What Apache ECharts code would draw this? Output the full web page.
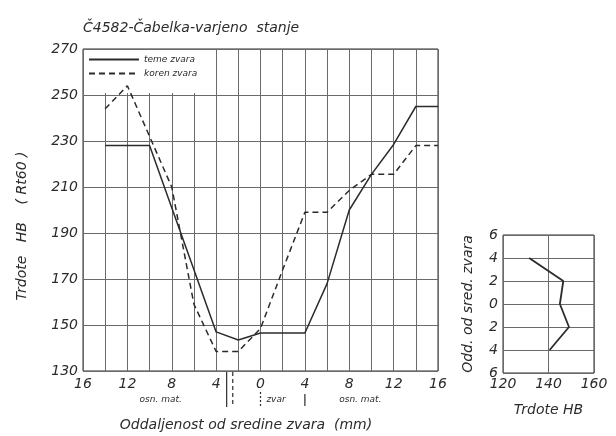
<!DOCTYPE html>
<html>
<head>
<meta charset="utf-8">
<script src="https://cdn.jsdelivr.net/npm/echarts@6/dist/echarts.min.js"></script>
<style>
  html, body { margin: 0; padding: 0; background: #fff; }
  #chart { width: 616px; height: 436px; }
</style>
</head>
<body>
<div id="chart"></div>
<script>
// oddaljenost od sredine zvara (mm)
const distance = [-14, -12, -10, -8, -6, -4, -2, 0, 2, 4, 6, 8, 10, 12, 14, 16];
// trdote HB, teme zvara (polna crta)
const temeZvara = [228, 228, 228, 201, 174, 147, 143.5, 146.5, 146.5, 146.5, 168, 200, 215.5, 228.5, 245, 245];
// trdote HB, koren zvara (crtkana crta)
const korenZvara = [244, 254, 232, 210, 159, 138.5, 138.5, 148.5, 174, 199, 199, 208.5, 215.5, 215.5, 228, 228];

const xLabelValues = [-16, -12, -8, -4, 0, 4, 8, 12, 16];
const yTicks = [130, 150, 170, 190, 210, 230, 250, 270];

// mali diagram desno
const sredPos = [4, 2, 0, -2, -4];
const sredHB = [131.5, 146.5, 145, 149, 140.5];
const smallYTicks = [-6, -4, -2, 0, 2, 4, 6];
const smallXTicks = [120, 140, 160];

// meje obmocij pod osjo (mm) in napisi
const zoneBounds = [-3.05, -2.5, 0, 4];
const zoneLabels = ['osn. mat.', 'zvar', 'osn. mat.'];
const zoneLabelPos = [-9, 1.4, 9];

const font = "'DejaVu Sans', 'Liberation Sans', sans-serif";
const ink = '#2b2b2b';
const gridInk = '#6a6a6a';

const chart = echarts.init(document.getElementById('chart'));

const labelStyle = { fontSize: 14, fontStyle: 'italic', color: ink, fontFamily: font };

chart.setOption({
  animation: false,
  backgroundColor: '#fff',
  textStyle: { fontFamily: font, fontStyle: 'italic', color: ink },
  title: {
    text: 'Č4582-Čabelka-varjeno  stanje',
    left: 78, top: 16,
    textStyle: { fontSize: 14, fontWeight: 'normal', fontStyle: 'italic', color: ink, fontFamily: font }
  },
  legend: {
    left: 84, top: 50, orient: 'vertical', z: 1,
    backgroundColor: '#fff', padding: [5, 14, 15, 4],
    itemWidth: 50, itemHeight: 8, itemGap: 5,
    itemStyle: { opacity: 0 },
    textStyle: { fontSize: 9, fontStyle: 'italic', color: ink, fontFamily: font },
    data: ['teme zvara', 'koren zvara']
  },
  grid: [
    { left: 83, top: 49, width: 355, height: 322, show: true, borderColor: ink, borderWidth: 1 },
    { left: 503, top: 235, width: 91, height: 138, show: true, borderColor: ink, borderWidth: 1 }
  ],
  xAxis: [
    {
      gridIndex: 0, type: 'value', min: -16, max: 16, interval: 2,
      axisLine: { show: false }, axisTick: { show: false },
      splitLine: { lineStyle: { color: gridInk, width: 1 } },
      axisLabel: Object.assign({ customValues: xLabelValues, margin: 6, formatter: v => String(Math.abs(v)) }, labelStyle)
    },
    {
      gridIndex: 1, type: 'value', min: 120, max: 160, interval: 20,
      axisLine: { show: false }, axisTick: { show: false },
      splitLine: { lineStyle: { color: gridInk, width: 1 } },
      axisLabel: Object.assign({ customValues: smallXTicks, margin: 4 }, labelStyle),
      name: 'Trdote HB', nameLocation: 'middle', nameGap: 30,
      nameTextStyle: labelStyle
    }
  ],
  yAxis: [
    {
      gridIndex: 0, type: 'value', min: 130, max: 270,
      axisLine: { show: false },
      axisTick: { show: false, customValues: yTicks },
      splitLine: { lineStyle: { color: gridInk, width: 1 } },
      axisLabel: Object.assign({ customValues: yTicks, margin: 5 }, labelStyle)
    },
    {
      gridIndex: 1, type: 'value', min: -6, max: 6, interval: 2,
      axisLine: { show: false }, axisTick: { show: false },
      splitLine: { lineStyle: { color: gridInk, width: 1 } },
      axisLabel: Object.assign({ customValues: smallYTicks, margin: 5, formatter: v => String(Math.abs(v)) }, labelStyle),
      name: 'Odd. od sred. zvara', nameLocation: 'middle', nameGap: 28,
      nameTextStyle: labelStyle
    }
  ],
  series: [
    {
      name: 'teme zvara', type: 'line', xAxisIndex: 0, yAxisIndex: 0, z: 3,
      data: distance.map((d, i) => [d, temeZvara[i]]),
      symbol: 'none',
      lineStyle: { color: ink, width: 1.5 }, itemStyle: { color: ink }
    },
    {
      name: 'koren zvara', type: 'line', xAxisIndex: 0, yAxisIndex: 0, z: 3,
      data: distance.map((d, i) => [d, korenZvara[i]]),
      symbol: 'none',
      lineStyle: { color: ink, width: 1.5, type: [6, 4] }, itemStyle: { color: ink }
    },
    {
      name: 'sredina', type: 'line', xAxisIndex: 1, yAxisIndex: 1, z: 3,
      data: sredHB.map((h, i) => [h, sredPos[i]]),
      symbol: 'none',
      lineStyle: { color: ink, width: 1.8 }, itemStyle: { color: ink }
    }
  ]
});

// crte in napisi pod osjo x, iz koordinat osi
const axisY = chart.convertToPixel({ gridIndex: 0 }, [0, 130])[1];
const px = v => chart.convertToPixel({ gridIndex: 0 }, [v, 130])[0];
const graphics = [];
const boundStyles = [
  { dash: null, from: 1, to: 36 },
  { dash: [4, 3], from: 1, to: 36 },
  { dash: [2, 2], from: 21, to: 35 },
  { dash: null, from: 23, to: 35 }
];
zoneBounds.forEach((b, i) => {
  const s = boundStyles[i];
  graphics.push({
    type: 'line',
    shape: { x1: px(b), y1: axisY + s.from, x2: px(b), y2: axisY + s.to },
    style: { stroke: ink, lineWidth: 1.2, lineDash: s.dash }
  });
});
zoneLabels.forEach((t, i) => {
  graphics.push({
    type: 'text', x: px(zoneLabelPos[i]), y: axisY + 29,
    style: { text: t, fontSize: 9, fontStyle: 'italic', fontFamily: font, fill: ink, align: 'center', verticalAlign: 'middle' }
  });
});
graphics.push({
  type: 'text', x: 246, y: 425,
  style: { text: 'Oddaljenost od sredine zvara  (mm)', fontSize: 14, fontStyle: 'italic', fontFamily: font, fill: ink, align: 'center', verticalAlign: 'middle' }
});
graphics.push({
  type: 'text', x: 22, y: 226, rotation: Math.PI / 2,
  style: { text: 'Trdote   HB    ( Rt60 )', fontSize: 14, fontStyle: 'italic', fontFamily: font, fill: ink, align: 'center', verticalAlign: 'middle' }
});
chart.setOption({ graphic: graphics });
</script>
</body>
</html>
